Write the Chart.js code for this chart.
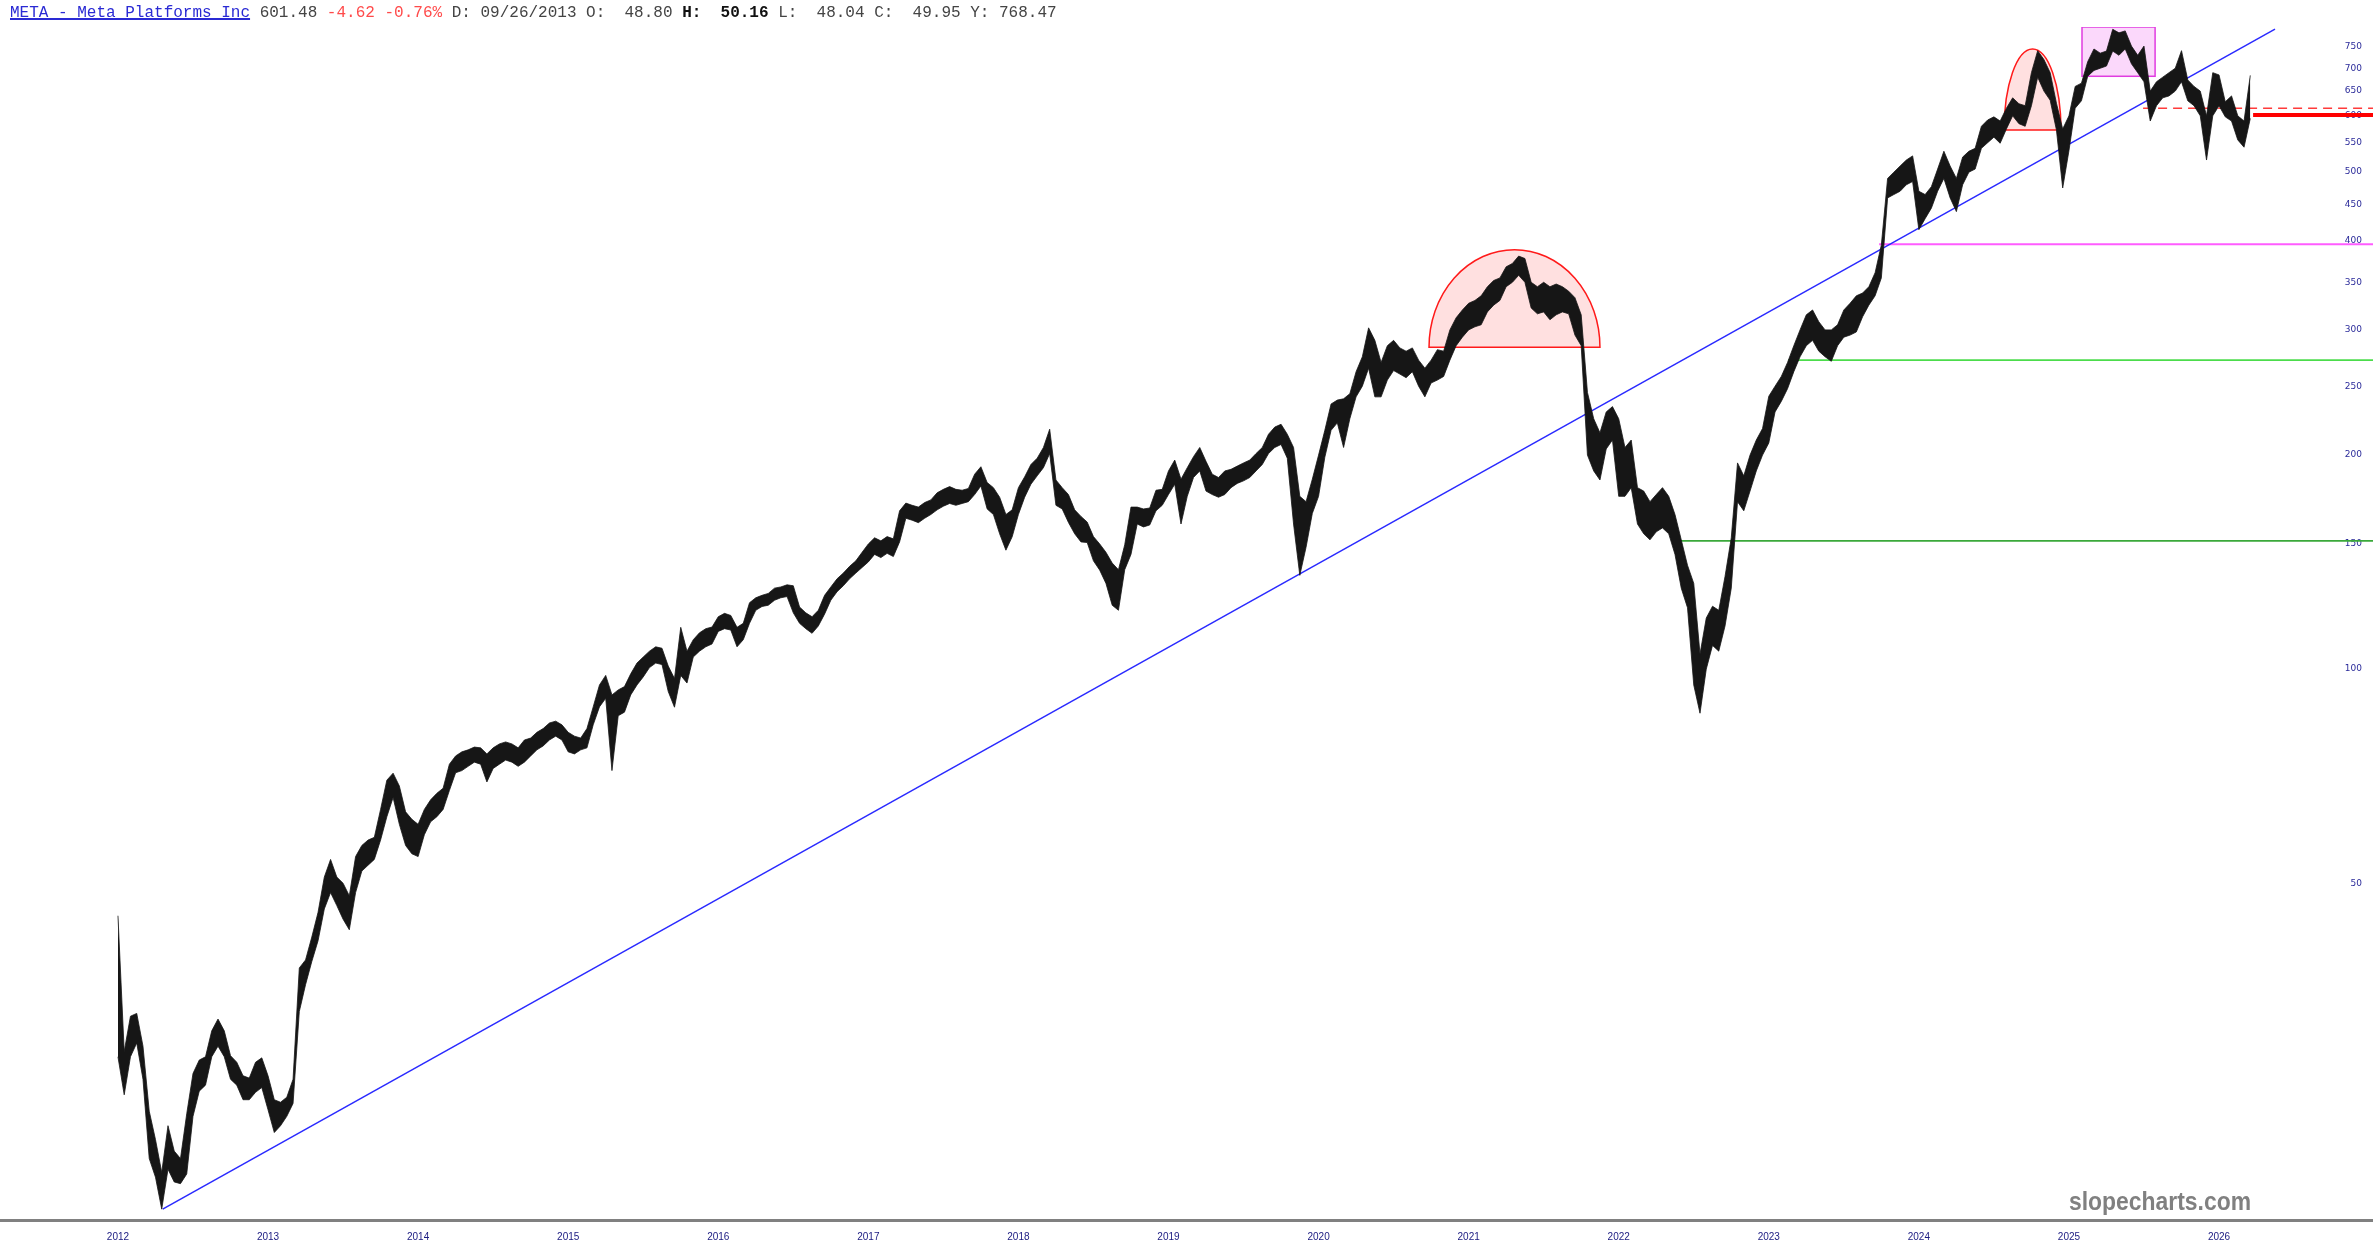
<!DOCTYPE html>
<html>
<head>
<meta charset="utf-8">
<title>META - Meta Platforms Inc</title>
<script src="https://cdn.jsdelivr.net/npm/chart.js@4.4.1/dist/chart.umd.min.js"></script>
<style>
  html, body { margin: 0; padding: 0; background: #fff; }
  #wrap { position: relative; width: 2373px; height: 1260px; }
  #header {
    position: absolute; left: 10px; top: 4px; z-index: 2;
    font: 16px 'Liberation Mono', 'Courier New', monospace;
    line-height: 18px; white-space: pre; color: #444;
  }
  #header .sym { color: #2a2ad4; text-decoration: underline; text-decoration-thickness: 2px; }
  #header .chg { color: #ff4a4a; }
  #header .hi { color: #111; font-weight: bold; }
</style>
</head>
<body>
<div id="wrap">
  <div id="header"><span class="sym">META - Meta Platforms Inc</span> 601.48 <span class="chg">-4.62 -0.76%</span> D: 09/26/2013 O:  48.80 <span class="hi">H:  50.16</span> L:  48.04 C:  49.95 Y: 768.47</div>
  <canvas id="chart"></canvas>
</div>
<script>
// axis labels
const yearLabels = ['2012', '2013', '2014', '2015', '2016', '2017', '2018', '2019',
  '2020', '2021', '2022', '2023', '2024', '2025', '2026'];
const priceTicks = [50, 100, 150, 200, 250, 300, 350, 400, 450, 500, 550, 600, 650, 700, 750];

// half-month price ranges, first slot sits on the "2012" label
const lows = [
  28.5, 25.2, 28.5, 29.8, 26.5, 20.5, 19.3, 17.4, 19.8, 19.0, 18.9, 19.5, 23.5, 25.5, 26.0, 28.5,
  29.5, 28.5, 26.5, 26.0, 24.8, 24.8, 25.4, 25.8, 24.0, 22.3, 22.8, 23.5, 24.5, 33.0, 36.0, 38.8,
  41.5, 46.0, 48.5, 46.5, 44.5, 43.0, 48.5, 52.0, 53.0, 54.0, 57.5, 62.0, 66.0, 60.5, 56.5, 55.0,
  54.5, 58.5, 61.0, 62.0, 63.5, 67.5, 71.5, 72.0, 73.0, 74.0, 73.5, 69.4, 72.5, 73.5, 74.5, 74.0,
  73.0, 74.0, 75.5, 77.0, 78.0, 79.5, 80.5, 79.5, 76.5, 76.0, 77.0, 77.5, 83.5, 88.5, 91.0, 72.0,
  86.0, 87.0, 92.0, 95.0, 97.5, 100.5, 102.0, 101.5, 93.0, 88.4, 98.0, 95.6, 104.0, 106.0, 107.5, 108.5,
  113.0, 114.0, 113.5, 107.5, 110.0, 116.0, 121.0, 122.5, 123.0, 125.0, 126.0, 126.5, 120.0, 116.0, 114.0, 112.3,
  115.0, 119.5, 125.0, 128.5, 131.0, 134.0, 136.5, 139.0, 141.5, 145.0, 143.5, 145.5, 144.0, 151.0, 163.0, 162.0,
  160.7, 163.0, 165.0, 167.5, 169.5, 171.0, 170.0, 171.0, 172.0, 176.0, 181.0, 168.0, 165.0, 155.0, 147.0, 153.5,
  165.0, 174.5, 182.0, 187.0, 192.0, 201.0, 170.0, 168.0, 160.8, 155.0, 151.0, 150.7, 142.0, 137.8, 132.0, 123.0,
  121.0, 138.0, 145.0, 160.0, 158.5, 159.5, 167.0, 170.0, 176.0, 182.0, 160.0, 175.0, 186.0, 190.0, 178.0, 176.0,
  174.5, 176.0, 180.0, 182.5, 184.0, 186.0, 190.0, 194.0, 201.0, 205.0, 207.0, 198.0, 160.0, 135.5, 148.4, 165.6,
  175.0, 198.6, 216.7, 222.0, 205.0, 225.0, 241.5, 250.0, 265.0, 241.5, 241.5, 255.0, 263.0, 260.0, 257.0, 262.0,
  250.0, 241.5, 252.6, 255.0, 258.0, 272.0, 285.0, 293.0, 300.0, 303.0, 305.0, 318.0, 325.0, 330.0, 345.0, 350.0,
  358.0, 350.0, 322.0, 316.0, 318.0, 310.0, 315.0, 318.0, 316.0, 295.0, 285.0, 200.0, 190.0, 184.5, 204.0, 210.0,
  175.0, 175.0, 180.0, 160.0, 155.0, 152.0, 156.0, 158.0, 155.0, 145.0, 130.0, 122.0, 95.0, 86.7, 100.0, 108.0,
  106.0, 115.0, 130.0, 172.0, 167.0, 178.0, 190.0, 200.0, 208.0, 230.0, 238.0, 248.0, 262.0, 275.0, 285.0, 290.0,
  280.0, 275.0, 271.0, 285.0, 293.0, 295.0, 298.0, 313.0, 325.0, 335.0, 355.0, 460.0, 465.0, 470.0, 480.0, 485.0,
  415.0, 430.0, 445.0, 470.0, 490.0, 460.0, 440.0, 480.0, 500.0, 505.0, 540.0, 550.0, 560.0, 549.0, 575.0, 600.0,
  585.0, 580.0, 620.0, 680.0, 650.0, 631.0, 573.0, 475.0, 536.0, 615.0, 630.0, 682.0, 695.0, 700.0, 705.0, 740.0,
  730.0, 745.0, 710.0, 690.0, 670.0, 590.0, 620.0, 636.0, 640.0, 650.0, 670.0, 630.0, 620.0, 600.0, 520.0, 600.0,
  620.0, 598.0, 590.0, 555.0, 542.0, 595.0
];
const highs = [
  45.0, 29.0, 32.5, 32.8, 29.5, 23.9, 21.8, 19.6, 22.8, 21.0, 20.5, 23.7, 27.0, 28.2, 28.5, 31.0,
  32.2, 31.0, 28.6, 28.0, 26.8, 26.6, 28.0, 28.4, 26.8, 24.8, 24.6, 25.0, 26.5, 38.0, 39.0, 42.0,
  45.5, 51.0, 54.0, 51.0, 50.0, 48.0, 54.5, 56.5, 57.5, 58.0, 63.5, 69.8, 71.4, 68.5, 63.0, 61.5,
  60.5, 63.5, 65.5, 66.9, 68.0, 73.5, 75.5, 76.5, 77.0, 77.7, 77.5, 76.0, 77.5, 78.5, 79.0, 78.5,
  77.5, 79.5, 80.0, 81.5, 82.5, 84.0, 84.5, 83.5, 81.5, 80.5, 80.0, 82.5, 88.5, 95.0, 98.0, 92.0,
  93.5, 94.5, 98.5, 102.0, 104.0, 106.0, 107.5, 107.0, 101.0, 97.0, 114.5, 106.0, 110.0, 112.5, 114.0, 114.6,
  118.5, 119.8, 119.0, 114.5, 116.0, 124.0, 126.0, 127.0, 127.8, 130.0, 130.5, 131.4, 131.0, 122.3, 120.0, 118.5,
  121.0, 127.0, 130.5, 134.0, 136.5, 139.5, 142.0, 146.0, 150.0, 153.0, 151.5, 153.6, 152.5, 167.0, 171.2, 170.0,
  169.0, 171.5, 173.0, 177.0, 179.0, 180.6, 179.0, 178.5, 179.5, 188.0, 192.6, 183.0, 180.0, 174.5, 165.0, 167.5,
  180.0, 186.4, 194.0, 198.0, 205.0, 217.5, 184.5, 180.0, 176.0, 167.5, 164.0, 161.0, 153.6, 150.0, 146.0, 141.0,
  138.0, 149.6, 169.0, 169.0, 168.0, 168.5, 178.5, 179.0, 190.0, 196.8, 185.0, 192.0, 199.0, 205.0, 196.0, 188.0,
  186.0, 190.0, 191.0, 193.0, 195.0, 196.8, 201.0, 205.0, 214.0, 219.0, 221.0, 214.0, 205.0, 175.0, 172.0, 185.0,
  200.0, 216.7, 236.0, 239.0, 240.0, 244.0, 262.0, 275.0, 302.0, 290.0, 270.0, 285.0, 290.0, 283.0, 280.0, 283.0,
  272.0, 265.0, 272.0, 281.4, 280.0, 300.0, 312.0, 320.0, 327.0, 330.0, 335.0, 345.0, 352.0, 355.0, 368.0, 372.0,
  381.0, 378.0, 350.0, 345.0, 350.0, 345.0, 348.0, 345.0, 340.0, 333.0, 315.0, 245.0, 225.0, 215.0, 230.0, 234.0,
  225.0, 205.0, 210.0, 180.0, 178.0, 172.0, 176.0, 180.0, 175.0, 165.0, 152.0, 140.0, 132.0, 105.0, 118.0, 122.6,
  121.0, 135.0, 153.0, 195.0, 187.0, 200.0, 210.0, 218.0, 242.0, 250.0, 258.0, 270.0, 285.0, 300.0, 315.0, 320.0,
  308.0, 300.0, 300.0, 305.0, 320.0, 327.0, 335.0, 338.0, 345.0, 361.0, 395.0, 490.0, 500.0, 510.0, 520.0, 527.0,
  470.0, 465.0, 477.0, 505.0, 535.0, 510.0, 490.0, 525.0, 535.0, 540.0, 580.0, 592.0, 598.0, 590.0, 615.0, 636.0,
  624.0, 620.0, 690.0, 741.0, 720.0, 690.0, 625.0, 575.0, 600.0, 660.0, 667.0, 715.0, 745.0, 735.0, 740.0, 794.0,
  785.0, 790.0, 752.0, 730.0, 752.0, 650.0, 670.0, 680.0, 690.0, 700.0, 741.0, 674.0, 660.0, 650.0, 600.0, 690.0,
  685.0, 628.0, 640.0, 600.0, 590.0, 684.0
];

// drawn studies
const trendStart = [2012.298, 17.4];
const trendEnd = [2026.373, 794.7];
const roundTops = [
  { from: 2020.736, to: 2021.875, base: 283.7, top: 389 },
  { from: 2024.568, to: 2024.947, base: 573, top: 745 }
];
const boxZone = { from: 2025.087, to: 2025.574, low: 682, high: 800 };
const magentaLevel = [2023.735, 396];
const greenHigh = [2023.128, 272];
const greenLow = [2022.375, 151.5];
const prevCloseLevel = [2025.494, 615];
const lastPrice = [2026.227, 601.48];

const X_MIN = 2011.214;
const X_MAX = 2027.026;
const slotX = (i) => 2012 + i / 24;

const highData = highs.map((v, i) => ({ x: slotX(i), y: v }));
const lowData = lows.map((v, i) => ({ x: slotX(i), y: v }));
const levelLine = (start) => [{ x: start[0], y: start[1] }, { x: X_MAX, y: start[1] }];

const studies = {
  id: 'studies',
  beforeDatasetsDraw(chart) {
    const { ctx, chartArea, scales: { x, y } } = chart;
    ctx.save();
    ctx.beginPath();
    ctx.rect(chartArea.left, chartArea.top, chartArea.width, chartArea.height);
    ctx.clip();

    roundTops.forEach((d) => {
      const left = x.getPixelForValue(d.from);
      const right = x.getPixelForValue(d.to);
      const base = y.getPixelForValue(d.base);
      const top = y.getPixelForValue(d.top);
      ctx.beginPath();
      ctx.ellipse((left + right) / 2, base, (right - left) / 2, base - top, 0, Math.PI, 2 * Math.PI);
      ctx.closePath();
      ctx.fillStyle = 'rgba(255, 0, 0, 0.12)';
      ctx.fill();
      ctx.strokeStyle = '#ff1a1a';
      ctx.lineWidth = 1.5;
      ctx.stroke();
    });

    const bl = x.getPixelForValue(boxZone.from);
    const br = x.getPixelForValue(boxZone.to);
    const bt = y.getPixelForValue(boxZone.high);
    const bb = y.getPixelForValue(boxZone.low);
    ctx.fillStyle = 'rgba(235, 60, 235, 0.2)';
    ctx.fillRect(bl, bt, br - bl, bb - bt);
    ctx.strokeStyle = '#e03ce0';
    ctx.lineWidth = 1.5;
    ctx.strokeRect(bl, bt, br - bl, bb - bt);
    ctx.restore();
  },
  afterDraw(chart) {
    const { ctx } = chart;
    ctx.save();
    ctx.font = 'bold 26px "Liberation Sans Narrow", "Liberation Sans", Arial, sans-serif';
    ctx.fillStyle = '#808080';
    ctx.textAlign = 'center';
    ctx.textBaseline = 'middle';
    ctx.fillText('slopecharts.com', 2160, 1203, 182);
    ctx.restore();
  }
};

const thin = { pointRadius: 0, tension: 0, fill: false };

new Chart(document.getElementById('chart').getContext('2d'), {
  type: 'line',
  data: {
    datasets: [
      { ...thin, label: 'High', data: highData, borderColor: '#161616', backgroundColor: '#161616', borderWidth: 0.8, fill: '+1' },
      { ...thin, label: 'Low', data: lowData, borderColor: '#161616', borderWidth: 0.8 },
      { ...thin, label: 'Trend', data: [{ x: trendStart[0], y: trendStart[1] }, { x: trendEnd[0], y: trendEnd[1] }], borderColor: '#2a2aff', borderWidth: 1.5 },
      { ...thin, label: 'Magenta', data: levelLine(magentaLevel), borderColor: '#ff5cff', borderWidth: 2 },
      { ...thin, label: 'Green high', data: levelLine(greenHigh), borderColor: '#4cdc4c', borderWidth: 1.6 },
      { ...thin, label: 'Green low', data: levelLine(greenLow), borderColor: '#3aa83a', borderWidth: 1.6 },
      { ...thin, label: 'Prev', data: levelLine(prevCloseLevel), borderColor: '#ff3b3b', borderWidth: 1.5, borderDash: [9, 6] },
      { ...thin, label: 'Last', data: levelLine(lastPrice), borderColor: '#ff0000', borderWidth: 4 }
    ]
  },
  options: {
    responsive: true,
    maintainAspectRatio: false,
    animation: false,
    events: [],
    layout: { padding: { top: 27, left: 0, right: 0, bottom: 0 } },
    plugins: { legend: { display: false }, tooltip: { enabled: false } },
    scales: {
      x: {
        type: 'linear',
        min: X_MIN,
        max: X_MAX,
        grid: { display: false, drawTicks: false },
        border: { display: true, color: '#808080', width: 3 },
        afterBuildTicks: (s) => { s.ticks = yearLabels.map((l) => ({ value: Number(l) })); },
        afterFit: (s) => { s.height = 40; },
        ticks: {
          autoSkip: false,
          maxRotation: 0,
          padding: 11,
          color: '#1a1a80',
          font: { family: '"Liberation Sans Narrow", "Liberation Sans", Arial, sans-serif', size: 10 },
          callback: (v) => String(v)
        }
      },
      y: {
        type: 'logarithmic',
        position: 'right',
        min: 16.8,
        max: 800,
        grid: { display: false, drawTicks: false },
        border: { display: false },
        afterBuildTicks: (s) => { s.ticks = priceTicks.map((v) => ({ value: v })); },
        afterFit: (s) => { s.width = 0; },
        ticks: {
          mirror: true,
          padding: -11,
          color: '#2b2b9a',
          font: { family: '"DejaVu Sans", Verdana, sans-serif', size: 9 },
          callback: (v) => String(v)
        }
      }
    }
  },
  plugins: [studies]
});
</script>
</body>
</html>
